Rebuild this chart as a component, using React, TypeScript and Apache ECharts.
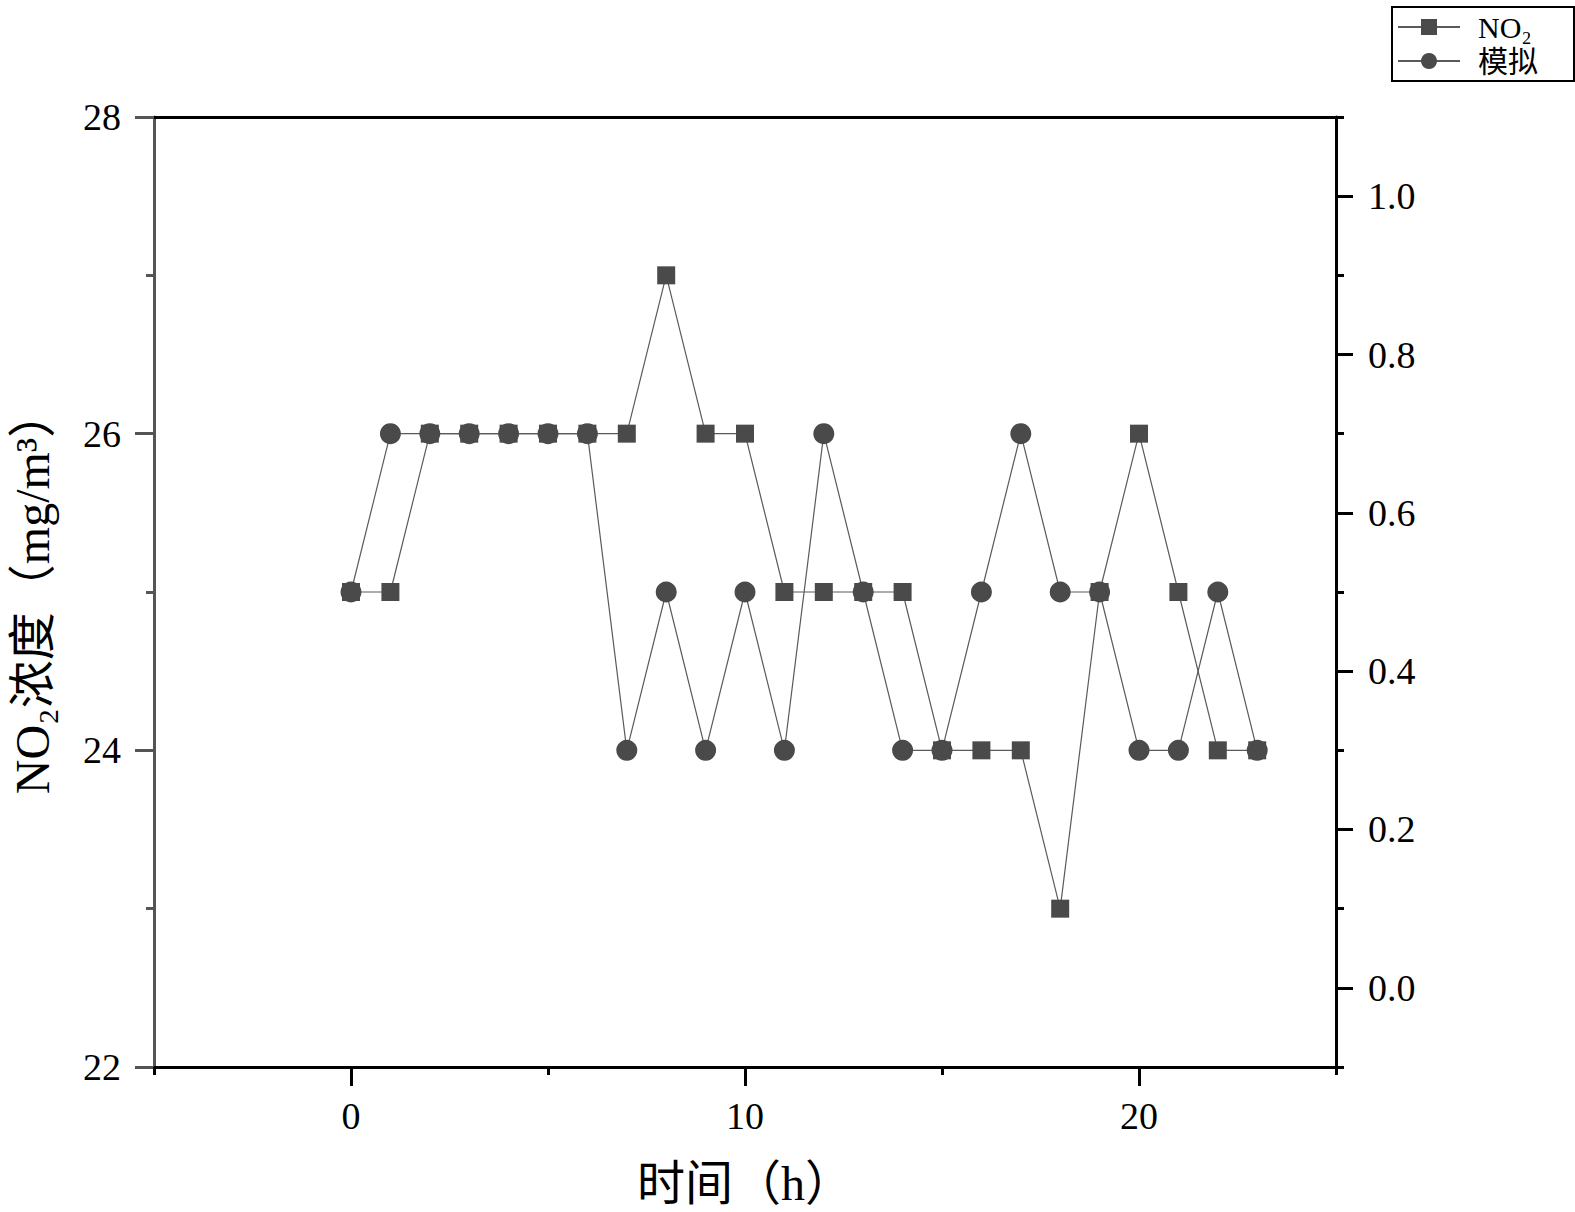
import React, { useEffect, useRef } from "react";
import * as echarts from "echarts";

const hours = [0, 1, 2, 3, 4, 5, 6, 7, 8, 9, 10, 11, 12, 13, 14, 15, 16, 17, 18, 19, 20, 21, 22, 23];
const no2 = [25, 25, 26, 26, 26, 26, 26, 26, 27, 26, 26, 25, 25, 25, 25, 24, 24, 24, 23, 25, 26, 25, 24, 24];
const simulated = [25, 26, 26, 26, 26, 26, 26, 24, 25, 24, 25, 24, 26, 25, 24, 24, 25, 26, 25, 25, 24, 24, 25, 24];

const xMajorTicks = [0, 10, 20];
const xMinorTicks = [-5, 5, 15, 25];
const rightMajorTicks = [0, 0.2, 0.4, 0.6, 0.8, 1.0];
const rightMinorTicks = [-0.1, 0.1, 0.3, 0.5, 0.7, 0.9, 1.1];

const seriesNames = ["NO₂", "模拟"];
const xTitle = "时间（h）";
const yTitle = "NO₂浓度（mg/m³）";

const FONT = "'Liberation Serif', 'DejaVu Serif', 'Noto Sans CJK SC', serif";

export default function App() {
  const ref = useRef<HTMLDivElement>(null);

  useEffect(() => {
    if (!ref.current) return;
    const chart = echarts.init(ref.current, undefined, { renderer: "svg" });
    const markColor = "#4a4a4a";
    const lineColor = "#5a5a5a";
    const option: any = {
      animation: false,
      backgroundColor: "#fff",
      textStyle: { fontFamily: FONT },
      grid: { left: 153, right: 239, top: 117, bottom: 143, show: false },
      legend: {
        orient: "vertical",
        left: 1392,
        top: 7,
        padding: [5, 36, 5, 5],
        itemGap: 4,
        itemWidth: 62,
        itemHeight: 20,
        borderColor: "#000",
        borderWidth: 2,
        borderRadius: 0,
        textStyle: {
          fontFamily: FONT,
          fontSize: 30,
          lineHeight: 30,
          color: "#000",
          padding: [0, 0, 0, 13],
        },
        data: seriesNames,
      },
      xAxis: [
        {
          type: "value",
          position: "bottom",
          min: -5,
          max: 25,
          axisLine: { show: true, onZero: false, lineStyle: { color: "#000", width: 3 } },
          axisTick: { show: true, customValues: xMajorTicks, length: 19, lineStyle: { color: "#000", width: 3 } },
          axisLabel: { customValues: xMajorTicks, fontSize: 38, margin: 30, color: "#000", fontFamily: FONT },
          splitLine: { show: false },
          name: xTitle,
          nameLocation: "middle",
          nameGap: 92,
          nameTextStyle: { fontSize: 48, color: "#000", fontFamily: FONT },
        },
        {
          type: "value",
          position: "bottom",
          min: -5,
          max: 25,
          axisLine: { show: false, onZero: false },
          axisTick: { show: true, customValues: xMinorTicks, length: 8, lineStyle: { color: "#000", width: 3 } },
          axisLabel: { show: false },
          splitLine: { show: false },
        },
        {
          type: "value",
          position: "top",
          min: -5,
          max: 25,
          axisLine: { show: true, onZero: false, lineStyle: { color: "#000", width: 3 } },
          axisTick: { show: false },
          axisLabel: { show: false },
          splitLine: { show: false },
        },
      ],
      yAxis: [
        {
          type: "value",
          position: "left",
          min: 22,
          max: 28,
          interval: 2,
          axisLine: { show: true, onZero: false, lineStyle: { color: "#555", width: 3 } },
          axisTick: { show: true, length: 19, lineStyle: { color: "#555", width: 3 } },
          minorTick: { show: true, splitNumber: 2, length: 8, lineStyle: { color: "#555", width: 3 } },
          axisLabel: { fontSize: 38, margin: 33, color: "#000", fontFamily: FONT },
          splitLine: { show: false },
          minorSplitLine: { show: false },
          name: yTitle,
          nameLocation: "middle",
          nameGap: 98,
          nameRotate: 90,
          nameTextStyle: { fontSize: 48, color: "#000", fontFamily: FONT },
        },
        {
          type: "value",
          position: "right",
          min: -0.1,
          max: 1.1,
          axisLine: { show: true, onZero: false, lineStyle: { color: "#000", width: 3 } },
          axisTick: { show: true, customValues: rightMajorTicks, length: 17, lineStyle: { color: "#000", width: 3 } },
          axisLabel: {
            customValues: rightMajorTicks,
            formatter: (v: number) => v.toFixed(1),
            fontSize: 38,
            margin: 32,
            color: "#000",
            fontFamily: FONT,
          },
          splitLine: { show: false },
        },
        {
          type: "value",
          position: "right",
          min: -0.1,
          max: 1.1,
          axisLine: { show: false, onZero: false },
          axisTick: { show: true, customValues: rightMinorTicks, length: 8, lineStyle: { color: "#000", width: 3 } },
          axisLabel: { show: false },
          splitLine: { show: false },
        },
      ],
      series: [
        {
          name: seriesNames[0],
          type: "line",
          xAxisIndex: 0,
          yAxisIndex: 0,
          data: hours.map((h, i) => [h, no2[i]]),
          symbol: "rect",
          symbolSize: 18,
          itemStyle: { color: markColor },
          lineStyle: { color: lineColor, width: 1.2 },
          z: 3,
        },
        {
          name: seriesNames[1],
          type: "line",
          xAxisIndex: 0,
          yAxisIndex: 0,
          data: hours.map((h, i) => [h, simulated[i]]),
          symbol: "circle",
          symbolSize: 21,
          itemStyle: { color: markColor },
          lineStyle: { color: lineColor, width: 1.2 },
          z: 4,
        },
      ],
    };
    chart.setOption(option);
    return () => chart.dispose();
  }, []);

  return (
    <div
      ref={ref}
      style={{ position: "absolute", left: 0, top: 0, width: 1575, height: 1212 }}
    />
  );
}
